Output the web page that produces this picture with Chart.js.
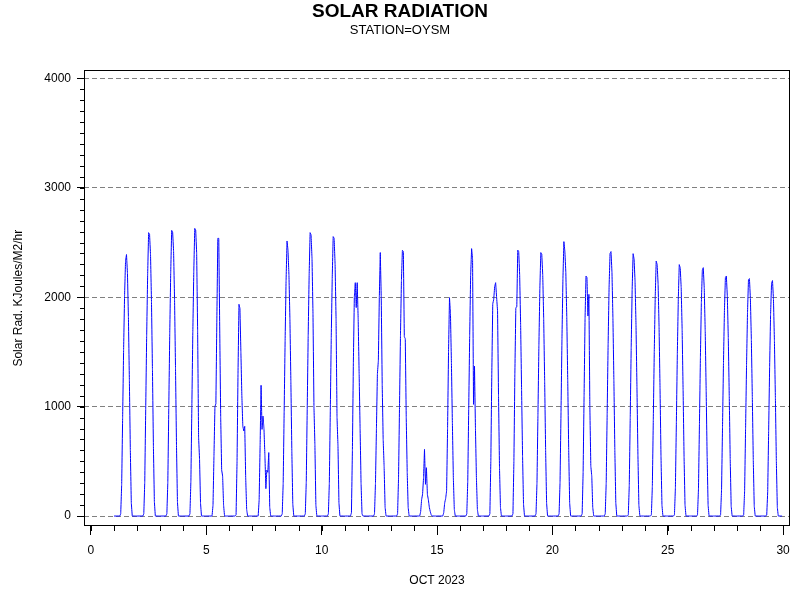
<!DOCTYPE html>
<html>
<head>
<meta charset="utf-8">
<script src="https://cdn.jsdelivr.net/npm/chart.js@4"></script>
<style>
  html, body { margin: 0; padding: 0; background: #fff; }
  #wrap { width: 800px; height: 600px; }
</style>
</head>
<body>
<div id="wrap"><canvas id="solar"></canvas></div>
<script>
var hours = [0, 6, 7, 8, 9, 10, 11, 12, 13, 14, 15, 16, 17, 18, 19, 23];

// October 2023 days shown
var days = [1, 2, 3, 4, 5, 6, 7, 8, 9, 10, 11, 12, 13, 14, 15,
            16, 17, 18, 19, 20, 21, 22, 23, 24, 25, 26, 27, 28, 29];

// solar radiation, KJoules/M2/hr, one row per day, one value per entry of hours
var radiation = [
	[0, 0, 20, 290, 900, 1520, 2010, 2330, 2390, 2220, 1820, 1240, 600, 120, 0, 0],
	[0, 0, 20, 310, 980, 1650, 2200, 2590, 2575, 2390, 1960, 1340, 640, 130, 0, 0],
	[0, 0, 20, 310, 990, 1670, 2220, 2611, 2596, 2420, 1980, 1350, 650, 130, 0, 0],
	[0, 0, 20, 320, 1000, 1680, 2230, 2629, 2614, 2400, 1700, 720, 520, 120, 0, 0],
	[0, 0, 100, 550, 1000, 1027, 1800, 2538, 2538, 1700, 900, 420, 366, 100, 0, 0],
	[0, 0, 10, 500, 1300, 1935, 1900, 1500, 1100, 822, 777, 820, 350, 60, 0, 0],
	[0, 0, 150, 650, 1195, 792, 914, 800, 550, 250, 420, 400, 580, 80, 0, 0],
	[0, 0, 20, 300, 950, 1600, 2150, 2514, 2430, 2200, 1800, 1230, 590, 110, 0, 0],
	[0, 0, 20, 310, 980, 1650, 2200, 2590, 2570, 2350, 1850, 1000, 650, 100, 0, 0],
	[0, 0, 20, 300, 960, 1630, 2170, 2554, 2539, 2300, 1800, 900, 640, 120, 0, 0],
	[0, 0, 30, 600, 1400, 2000, 2133, 1905, 2133, 1800, 1300, 800, 300, 20, 0, 0],
	[0, 0, 20, 300, 800, 1300, 1420, 2000, 2408, 2000, 1200, 700, 450, 80, 0, 0],
	[0, 0, 20, 350, 1000, 1650, 2150, 2429, 2417, 1640, 1620, 900, 400, 80, 0, 0],
	[0, 0, 40, 150, 200, 350, 610, 290, 442, 198, 150, 80, 40, 10, 0, 0],
	[0, 0, 30, 120, 160, 230, 800, 1500, 1996, 1850, 1400, 850, 350, 60, 0, 0],
	[0, 0, 20, 320, 980, 1650, 2200, 2444, 2350, 1021, 1371, 800, 350, 60, 0, 0],
	[0, 0, 20, 500, 1300, 1940, 1980, 2100, 2133, 2000, 1874, 1100, 450, 80, 0, 0],
	[0, 0, 20, 500, 1300, 1905, 1910, 2431, 2417, 2200, 1750, 1150, 550, 110, 0, 0],
	[0, 0, 20, 300, 920, 1560, 2080, 2408, 2392, 2200, 1800, 1230, 600, 120, 0, 0],
	[0, 0, 20, 310, 950, 1620, 2170, 2508, 2420, 2230, 1820, 1240, 600, 120, 0, 0],
	[0, 0, 20, 400, 1100, 1800, 2194, 2179, 1828, 2026, 1000, 457, 366, 80, 0, 0],
	[0, 0, 20, 300, 930, 1570, 2090, 2400, 2417, 2230, 1810, 1240, 600, 120, 0, 0],
	[0, 0, 10, 280, 900, 1540, 2070, 2398, 2350, 2150, 1750, 1180, 560, 100, 0, 0],
	[0, 0, 10, 270, 880, 1500, 2000, 2331, 2300, 2120, 1730, 1170, 550, 100, 0, 0],
	[0, 0, 10, 260, 860, 1480, 1980, 2298, 2270, 2090, 1700, 1150, 540, 100, 0, 0],
	[0, 0, 10, 250, 840, 1450, 1950, 2250, 2270, 2080, 1690, 1140, 540, 100, 0, 0],
	[0, 0, 10, 240, 810, 1400, 1880, 2180, 2194, 2010, 1630, 1100, 520, 90, 0, 0],
	[0, 0, 10, 230, 800, 1380, 1860, 2160, 2170, 1990, 1610, 1090, 510, 90, 0, 0],
	[0, 0, 10, 220, 780, 1360, 1840, 2130, 2152, 1980, 1600, 1080, 500, 80, 0, 0]
];

// axis ticks
var xTicks = [0, 5, 10, 15, 20, 25, 30];
var yTicks = [0, 1000, 2000, 3000, 4000];

// x value = day of month + fraction of the day
var points = [];
for (var d = 0; d < days.length; d++) {
	for (var i = 0; i < hours.length; i++) {
		points.push({ x: days[d] + hours[i] / 24, y: radiation[d][i] });
	}
}

// box around the plot and the small minor ticks
var frameTicks = {
	id: 'frameTicks',
	afterDraw: function (chart) {
		var ctx = chart.ctx;
		var area = chart.chartArea;
		var sx = chart.scales.x, sy = chart.scales.y;
		ctx.save();
		ctx.strokeStyle = '#000';
		ctx.lineWidth = 1;
		ctx.strokeRect(Math.round(area.left) + 0.5, Math.round(area.top) + 0.5,
			Math.round(area.width) - 1, Math.round(area.height) - 1);
		ctx.beginPath();
		for (var n = 0; n <= 30; n++) {
			var px = Math.round(sx.getPixelForValue(n)) + 0.5;
			ctx.moveTo(px, area.bottom);
			ctx.lineTo(px, area.bottom + 5);
		}
		for (var v = 100; v < 4000; v += 100) {
			var py = Math.round(sy.getPixelForValue(v)) + 0.5;
			ctx.moveTo(area.left - 4, py);
			ctx.lineTo(area.left, py);
		}
		ctx.stroke();
		ctx.restore();
	}
};

Chart.defaults.font.family = '"Liberation Sans", Arial, sans-serif';
Chart.defaults.color = '#000';

new Chart(document.getElementById('solar'), {
	type: 'line',
	data: {
		datasets: [{
			label: 'Solar Rad.',
			data: points,
			borderColor: '#0000ff',
			borderWidth: 1,
			pointRadius: 0,
			tension: 0.0001,   // keeps the plain path drawing (no pixel merging)
			fill: false
		}]
	},
	options: {
		responsive: true,
		maintainAspectRatio: false,
		devicePixelRatio: 1,
		animation: false,
		layout: { padding: { left: 10, right: 10, top: 0, bottom: 0 } },
		plugins: {
			legend: { display: false },
			tooltip: { enabled: false },
			title: {
				display: true,
				text: 'SOLAR RADIATION',
				font: { size: 19, weight: 'bold' },
				color: '#000',
				padding: { top: 0, bottom: 0 }
			},
			subtitle: {
				display: true,
				text: 'STATION=OYSM',
				font: { size: 13 },
				color: '#000',
				padding: { top: 0, bottom: 32 }
			}
		},
		scales: {
			x: {
				type: 'linear',
				min: -0.3,
				max: 30.3,
				afterBuildTicks: function (scale) {
					scale.ticks = xTicks.map(function (v) { return { value: v }; });
				},
				afterFit: function (scale) { scale.height = 74; },
				grid: {
					drawOnChartArea: false,
					drawTicks: true,
					tickLength: 9,
					tickColor: '#000',
					tickWidth: 1
				},
				border: { display: false },
				ticks: {
					font: { size: 12 },
					padding: 8,
					maxRotation: 0,
					callback: function (value) { return String(value); }
				},
				title: {
					display: true,
					text: 'OCT 2023',
					font: { size: 12 },
					padding: { top: 0, bottom: 12 }
				}
			},
			y: {
				type: 'linear',
				min: -91,
				max: 4073,
				afterBuildTicks: function (scale) {
					scale.ticks = yTicks.map(function (v) { return { value: v }; });
				},
				afterFit: function (scale) { scale.width = 74; },
				grid: {
					color: '#808080',
					lineWidth: 1,
					drawTicks: true,
					tickLength: 7,
					tickColor: '#000',
					tickWidth: 1,
					tickBorderDash: []
				},
				border: { display: false, dash: [5, 3] },
				ticks: {
					font: { size: 12 },
					padding: 6,
					callback: function (value) { return String(value); }
				},
				title: {
					display: true,
					text: 'Solar Rad. KJoules/M2/hr',
					font: { size: 12 },
					padding: { top: 1, bottom: 0 }
				}
			}
		}
	},
	plugins: [frameTicks]
});
</script>
</body>
</html>
